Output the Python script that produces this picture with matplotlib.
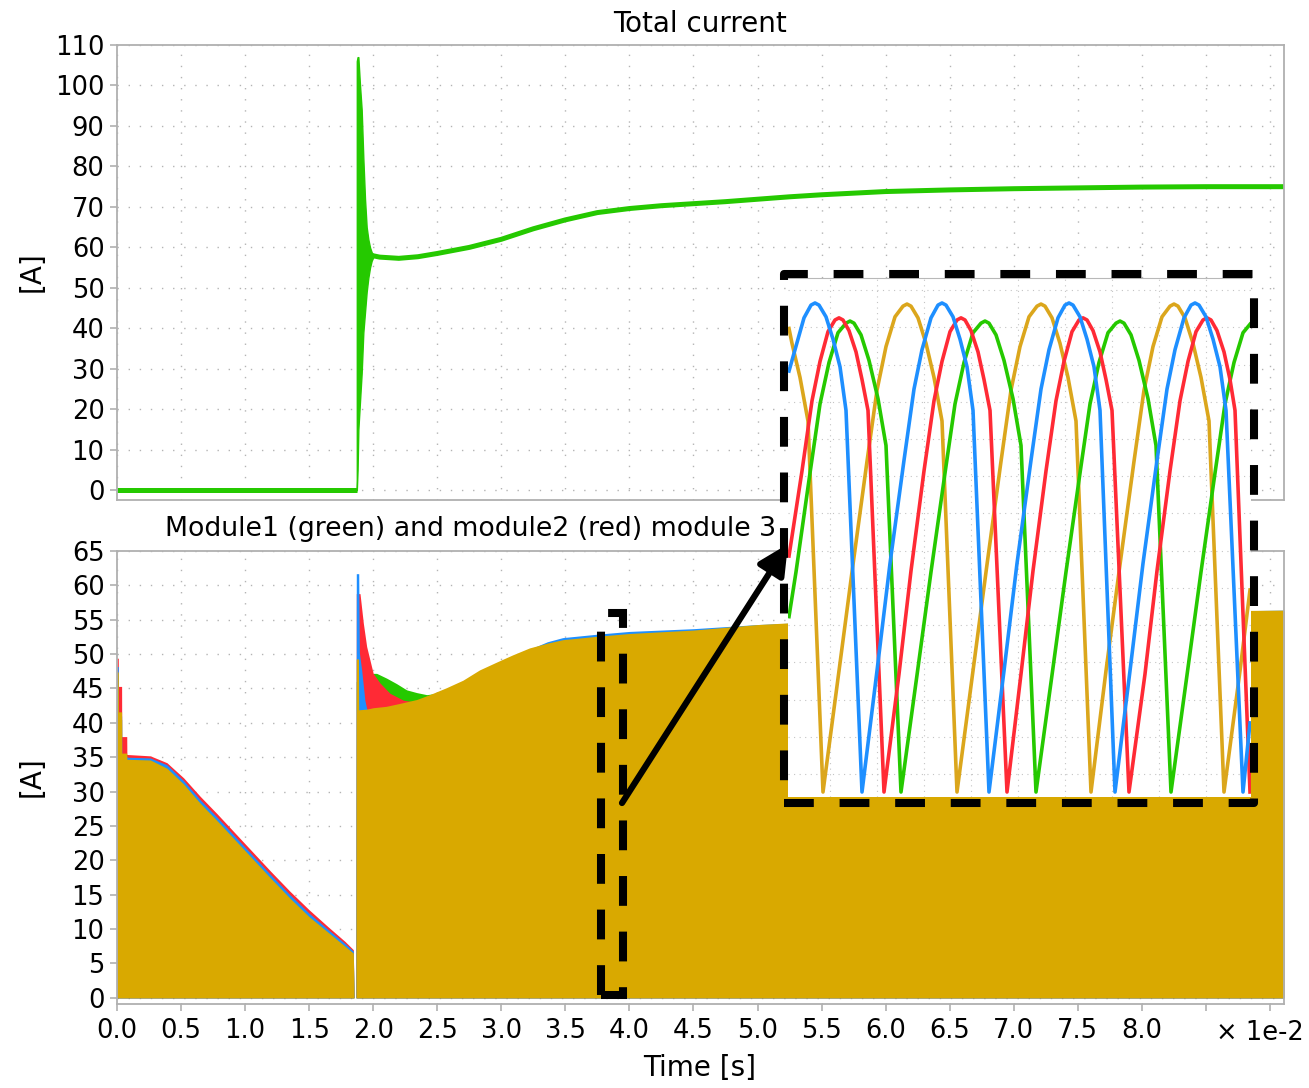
import matplotlib
matplotlib.use("Agg")
import matplotlib.pyplot as plt
import numpy as np
from matplotlib.patches import Rectangle, FancyArrowPatch

W, H = 1309, 1088

GREEN = "#25c900"
RED = "#ff2a35"
BLUE = "#1e8fff"
YELLOW = "#d9a900"
YELLOW_LINE = "#dba61c"
GRID = "#b4b4b4"
SPINE = "#b0b0b0"
FS = 18.5      # tick labels
FS_TXT = 20    # titles / axis labels

# time axis in units of 1e-2 s
x_ticks = [0.0, 0.5, 1.0, 1.5, 2.0, 2.5, 3.0, 3.5, 4.0, 4.5, 5.0, 5.5, 6.0, 6.5, 7.0, 7.5, 8.0, 8.5, 9.0]
x_labels = ["0.0", "0.5", "1.0", "1.5", "2.0", "2.5", "3.0", "3.5", "4.0", "4.5", "5.0",
            "5.5", "6.0", "6.5", "7.0", "7.5", "8.0", "", ""]
top_yticks = [0, 10, 20, 30, 40, 50, 60, 70, 80, 90, 100, 110]
bot_yticks = [0, 5, 10, 15, 20, 25, 30, 35, 40, 45, 50, 55, 60, 65]

# ---- total current ----
t_tot_off = [0.0, 1.872]
i_tot_off = [0.0, 0.0]
# switching transient (oscillation envelope)
t_env = [1.872, 1.878, 1.884, 1.897, 1.910, 1.923, 1.936, 1.949, 1.962, 1.975, 1.988, 2.001]
env_hi = [106, 107, 107, 100, 94, 82, 72, 65, 62, 60, 58.8, 58.2]
env_lo = [0, 5, 15, 22, 29, 39, 44, 49, 52.5, 55, 56.7, 57.6]
t_tot = [1.99, 2.05, 2.2, 2.35, 2.5, 2.75, 3.0, 3.25, 3.5, 3.75, 4.0, 4.25, 4.5, 4.75, 5.0,
         5.25, 5.5, 5.75, 6.0, 6.5, 7.0, 7.5, 8.0, 8.5, 9.11]
i_tot = [58.0, 57.6, 57.3, 57.7, 58.5, 60.0, 62.0, 64.6, 66.8, 68.6, 69.6, 70.3, 70.8, 71.3, 71.9,
         72.5, 73.0, 73.4, 73.8, 74.2, 74.5, 74.7, 74.9, 75.0, 75.0]

# ---- module currents (envelopes of the rectified currents) ----
t_m4 = [0, 0.010, 0.011, 0.036, 0.037, 0.076, 0.077, 0.26, 0.39, 0.52, 0.65, 0.78, 0.90, 1.05,
        1.20, 1.35, 1.50, 1.65, 1.78, 1.845, 1.85, 1.866, 1.868, 1.885, 1.887, 1.95, 2.00, 2.10,
        2.20, 2.34, 2.44, 2.57, 2.70, 2.83, 2.97, 3.09, 3.22, 3.36, 3.48, 3.75, 4.00, 4.50, 5.00,
        5.50, 6.00, 6.50, 7.00, 7.50, 8.00, 8.50, 9.11]
i_m4 = [47.4, 47.4, 41.6, 41.6, 35.6, 35.6, 34.7, 34.6, 33.4, 31.1, 28.3, 25.8, 23.4, 20.4,
        17.4, 14.5, 11.8, 9.5, 7.5, 6.5, 0, 0, 49.3, 49.3, 41.9, 42.0, 42.2, 42.4,
        42.8, 43.4, 44.1, 45.1, 46.2, 47.7, 48.9, 49.9, 50.9, 51.6, 52.1, 52.6, 53.0, 53.5, 54.3,
        54.8, 55.2, 55.5, 55.8, 56.0, 56.2, 56.3, 56.4]

t_m3 = [0, 0.010, 0.011, 0.036, 0.037, 0.076, 0.077, 0.26, 0.39, 0.52, 0.65, 0.78, 0.90, 1.05,
        1.20, 1.35, 1.50, 1.65, 1.78, 1.845, 1.85, 1.866, 1.868, 1.887, 1.892, 1.91, 1.935, 1.95,
        2.00, 2.20, 2.44, 2.70, 2.97, 3.22, 3.36, 3.48, 3.75, 4.00, 4.50, 5.00, 6.00, 7.00, 8.00,
        9.11]
i_m3 = [48.2, 48.2, 41.0, 41.0, 35.2, 35.2, 35.0, 34.9, 33.9, 31.6, 28.8, 26.3, 23.9, 20.9,
        17.9, 15.0, 12.3, 9.9, 7.9, 6.8, 0, 0, 61.7, 61.7, 50.2, 47.7, 43.3, 42.0,
        41.8, 42.5, 43.8, 45.8, 48.6, 50.7, 51.8, 52.4, 52.9, 53.3, 53.7, 54.3, 55.1, 55.7, 56.1,
        56.4]

t_m2 = [0, 0.010, 0.011, 0.036, 0.037, 0.076, 0.077, 0.26, 0.39, 0.52, 0.65, 0.78, 0.90, 1.05,
        1.20, 1.35, 1.50, 1.65, 1.78, 1.845, 1.85, 1.866, 1.868, 1.897, 1.923, 1.949, 1.975, 2.00,
        2.053, 2.131, 2.235, 2.34, 2.40, 3.0, 4.0, 5.0, 6.0, 7.0, 8.0, 9.11]
i_m2 = [49.4, 49.4, 45.3, 45.3, 38.0, 38.0, 35.4, 35.2, 34.2, 32.0, 29.3, 26.8, 24.4, 21.4,
        18.4, 15.5, 12.8, 10.3, 8.2, 7.0, 0, 0, 58.8, 58.8, 54.5, 51.1, 49.1, 47.2,
        45.8, 44.3, 43.3, 43.0, 43.5, 48.0, 52.8, 54.0, 55.0, 55.6, 56.0, 56.2]

t_m1 = [0, 0.010, 0.011, 0.036, 0.037, 0.26, 0.39, 0.52, 0.65, 0.78, 0.90, 1.05, 1.20, 1.35,
        1.50, 1.65, 1.78, 1.845, 1.85, 1.866, 1.868, 1.95, 2.00, 2.027, 2.105, 2.183, 2.261,
        2.34, 2.418, 2.50, 3.0, 4.0, 5.0, 6.0, 7.0, 8.0, 9.11]
i_m1 = [46.5, 46.5, 40.5, 40.5, 34.2, 34.0, 32.8, 30.5, 27.7, 25.2, 22.8, 19.8, 16.8, 13.9,
        11.2, 8.9, 6.9, 5.9, 0, 0, 46.0, 47.0, 47.2, 47.2, 46.5, 45.7, 44.8,
        44.4, 44.1, 44.3, 48.5, 52.8, 54.0, 55.0, 55.6, 56.0, 56.3]

# ---- zoomed window: sample number (4.4 us step) and current in A ----
dt_us = 4.4
zn_blue = [0, 6, 15, 22, 26, 30, 37, 44, 51, 57, 73,
           88, 101, 115, 125, 133, 142, 149, 153, 157, 164, 171, 178, 184, 200,
           215, 228, 242, 252, 260, 269, 276, 280, 284, 291, 298, 305, 311, 326,
           341, 354, 368, 378, 386, 395, 402, 406, 410, 417, 424, 431, 437, 454, 461]
zi_blue = [39.6, 41.6, 44.6, 45.8, 46.0, 45.8, 44.7, 42.6, 40.0, 35.9, 0,
           11.4, 21.5, 31.2, 37.9, 41.6, 44.6, 45.8, 46.0, 45.8, 44.7, 42.6, 40.0, 35.9, 0,
           11.4, 21.5, 31.2, 37.9, 41.6, 44.6, 45.8, 46.0, 45.8, 44.7, 42.6, 40.0, 35.9, 0,
           11.4, 21.5, 31.2, 37.9, 41.6, 44.6, 45.8, 46.0, 45.8, 44.7, 42.6, 40.0, 35.9, 0, 6.5]
zn_red = [0, 13, 23, 31, 39, 46, 50, 54, 60, 67, 73, 79, 95,
          110, 122, 135, 145, 153, 161, 168, 172, 176, 182, 189, 195, 201, 218,
          232, 244, 257, 267, 275, 283, 290, 294, 298, 304, 311, 317, 323, 340,
          356, 368, 381, 391, 399, 407, 414, 418, 422, 428, 435, 441, 446, 461]
zi_red = [22.2, 30.2, 36.8, 40.5, 43.3, 44.4, 44.6, 44.4, 43.4, 41.4, 38.8, 35.9, 0,
          11.1, 20.8, 30.2, 36.8, 40.5, 43.3, 44.4, 44.6, 44.4, 43.4, 41.4, 38.8, 35.9, 0,
          11.1, 20.8, 30.2, 36.8, 40.5, 43.3, 44.4, 44.6, 44.4, 43.4, 41.4, 38.8, 35.9, 0,
          11.1, 20.8, 30.2, 36.8, 40.5, 43.3, 44.4, 44.6, 44.4, 43.4, 41.4, 38.8, 35.9, 0]
zn_green = [0, 7, 21, 31, 40, 49, 57, 61, 65, 72, 80, 89, 97, 112,
            128, 142, 156, 166, 175, 184, 192, 196, 200, 207, 215, 224, 232, 247,
            263, 277, 291, 301, 310, 319, 327, 331, 335, 342, 350, 359, 367, 382,
            398, 412, 426, 436, 445, 454, 461]
zi_green = [16.5, 20.7, 30.0, 36.5, 40.4, 43.2, 44.1, 44.3, 44.1, 43.0, 40.6, 37.0, 32.6, 0,
            11.0, 20.7, 30.0, 36.5, 40.4, 43.2, 44.1, 44.3, 44.1, 43.0, 40.6, 37.0, 32.6, 0,
            11.0, 20.7, 30.0, 36.5, 40.4, 43.2, 44.1, 44.3, 44.1, 43.0, 40.6, 37.0, 32.6, 0,
            11.0, 20.7, 30.0, 36.5, 40.4, 43.2, 44.0]
zn_yel = [0, 3, 11, 19, 34,
          50, 64, 78, 88, 97, 106, 114, 118, 122, 129, 137, 145, 153, 168,
          184, 198, 212, 222, 231, 240, 248, 252, 256, 263, 271, 279, 287, 302,
          317, 331, 345, 355, 364, 373, 381, 385, 389, 396, 404, 412, 420, 435,
          451, 461]
zi_yel = [43.6, 42.2, 39.0, 34.9, 0,
          11.4, 21.4, 31.1, 37.8, 41.9, 44.7, 45.7, 45.9, 45.7, 44.6, 42.2, 39.0, 34.9, 0,
          11.4, 21.4, 31.1, 37.8, 41.9, 44.7, 45.7, 45.9, 45.7, 44.6, 42.2, 39.0, 34.9, 0,
          11.4, 21.4, 31.1, 37.8, 41.9, 44.7, 45.7, 45.9, 45.7, 44.6, 42.2, 39.0, 34.9, 0,
          11.4, 19.0]

# zoom window in main time units
zoom_t0, zoom_t1 = 3.778, 3.950
zoom_i0, zoom_i1 = 0.4, 56.0


def rect(x0, y0, x1, y1):
    return [x0 / W, 1 - y1 / H, (x1 - x0) / W, (y1 - y0) / H]


def style(ax):
    for s in ax.spines.values():
        s.set_color(SPINE)
        s.set_linewidth(1.3)
    ax.tick_params(colors=SPINE, labelcolor="black", labelsize=FS, length=5, width=1.2)
    ax.tick_params(axis="y", pad=4)
    ax.tick_params(axis="x", pad=5)
    ax.set_xticks(x_ticks)
    ax.set_xlim(0, 9.11)
    ax.grid(True, color=GRID, linestyle=(0, (1, 7)), linewidth=1.0)
    ax.set_axisbelow(True)


plt.rcParams["font.family"] = ["DejaVu Sans"]
fig = plt.figure(figsize=(W / 100, H / 100), dpi=100)

# top: total current
ax1 = fig.add_axes(rect(117, 45, 1284, 500))
style(ax1)
ax1.set_ylim(-2.4, 110)
ax1.set_yticks(top_yticks)
ax1.tick_params(axis="x", length=0, labelbottom=False)
ax1.plot(t_tot_off, i_tot_off, color=GREEN, lw=3.6, solid_capstyle="butt")
ax1.fill_between(t_env, env_lo, env_hi, color=GREEN, lw=1.0, edgecolor=GREEN)
ax1.plot(t_tot, i_tot, color=GREEN, lw=3.6)

# bottom: module currents
ax2 = fig.add_axes(rect(117, 551, 1284, 1004))
style(ax2)
ax2.set_ylim(-0.9, 65)
ax2.set_yticks(bot_yticks)
ax2.set_xticklabels(x_labels)
for t, v, c in [(t_m1, i_m1, GREEN), (t_m2, i_m2, RED), (t_m3, i_m3, BLUE), (t_m4, i_m4, YELLOW)]:
    ax2.fill_between(t, 0, v, color=c, lw=0)
ax2.text((165 - 117) / 1167, 1 + 22 / 453, "Module1 (green) and module2 (red) module 3",
         transform=ax2.transAxes, ha="left", va="center", fontsize=19.3)
ax2.add_patch(Rectangle((zoom_t0, zoom_i0), zoom_t1 - zoom_t0, zoom_i1 - zoom_i0, fill=False,
                        ec="black", lw=5.8, ls=(0, (3.7, 3.2)), zorder=4, clip_on=False))

# zoomed inset
ax3 = fig.add_axes(rect(788, 278, 1251, 797))
ax3.set_zorder(5)
ax3.set_facecolor("white")
ax3.set_xlim(-1 * dt_us, 462 * dt_us)
ax3.set_ylim(-0.47, 48.35)
ax3.set_xticks(np.arange(180, 2000, 207))
ax3.set_yticks(np.arange(1.7, 48, 3.5))
ax3.tick_params(length=0, labelbottom=False, labelleft=False)
ax3.grid(True, color="#c4c4c4", linestyle=(0, (1, 4)), linewidth=0.8)
for s in ax3.spines.values():
    s.set_visible(False)
ax3.spines["top"].set_visible(True)
ax3.spines["top"].set_color("#b8b8b8")
for n, v, c in [(zn_yel, zi_yel, YELLOW_LINE), (zn_green, zi_green, GREEN),
                (zn_red, zi_red, RED), (zn_blue, zi_blue, BLUE)]:
    ax3.plot(np.array(n) * dt_us, v, color=c, lw=2.6, solid_joinstyle="round")

fig.add_artist(Rectangle((784 / W, 1 - 803 / H), (1254 - 784) / W, (803 - 274) / H,
                         transform=fig.transFigure, fill=False, ec="black", lw=5.8,
                         ls=(0, (3.7, 3.2)), joinstyle="round", zorder=10))
fig.add_artist(FancyArrowPatch((622 / W, 1 - 803 / H), (788 / W, 1 - 544 / H),
                               transform=fig.transFigure, arrowstyle="-|>", mutation_scale=45,
                               lw=4.5, color="black", shrinkA=0, shrinkB=0, zorder=11))

# texts
fig.text(700 / W, 1 - 24 / H, "Total current", ha="center", va="center", fontsize=FS_TXT)
fig.text(32 / W, 1 - 272 / H, "[A]", rotation=90, ha="center", va="center", fontsize=FS_TXT)
fig.text(32 / W, 1 - 777 / H, "[A]", rotation=90, ha="center", va="center", fontsize=FS_TXT)
fig.text(700 / W, 1 - 1068 / H, "Time [s]", ha="center", va="center", fontsize=FS_TXT)
fig.text(1304 / W, 1 - 1033 / H, "\u00d7 1e-2", ha="right", va="center", fontsize=FS)

fig.savefig("out.png", dpi=100)
